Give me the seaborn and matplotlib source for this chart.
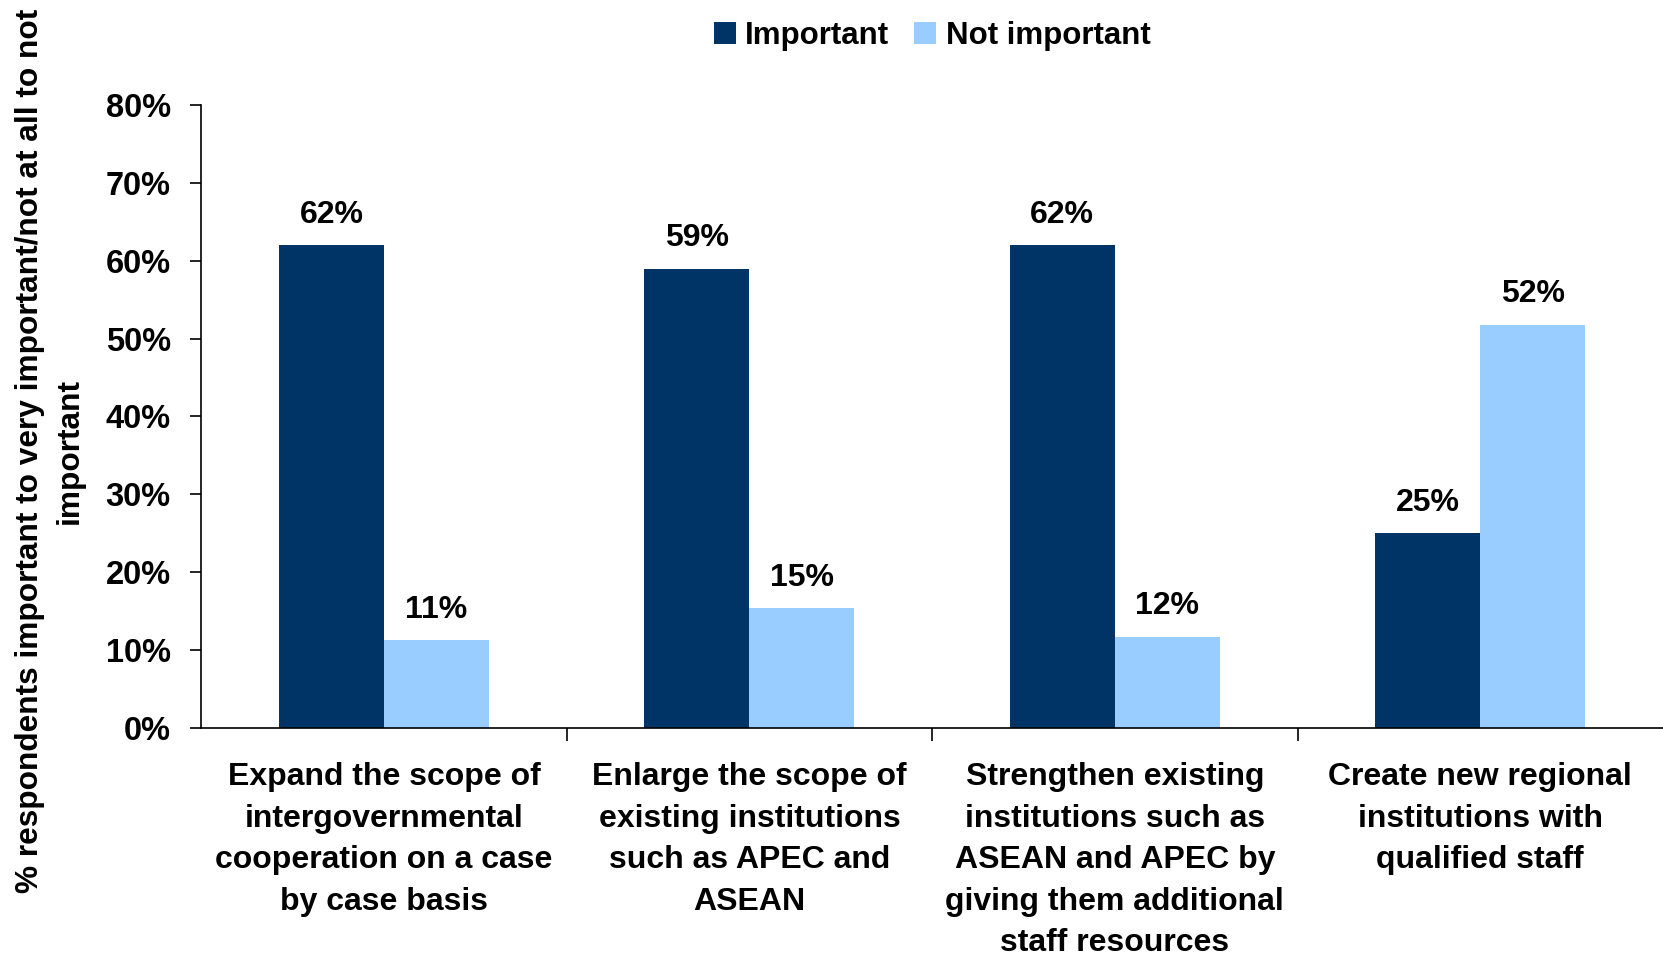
import pandas as pd
import matplotlib.pyplot as plt
import seaborn as sns
from matplotlib.ticker import FuncFormatter

# data
categories = [
    "Expand the scope of\nintergovernmental\ncooperation on a case\nby case basis",
    "Enlarge the scope of\nexisting institutions\nsuch as APEC and\nASEAN",
    "Strengthen existing\ninstitutions such as\nASEAN and APEC by\ngiving them additional\nstaff resources",
    "Create new regional\ninstitutions with\nqualified staff",
]
series = ["Important", "Not important"]
important = [62, 59, 62, 25]
not_important = [11.2, 15.4, 11.7, 51.8]
colors = ["#003366", "#99CCFF"]

df = pd.DataFrame({
    "Categoria": categories * 2,
    "Serie": [series[0]] * 4 + [series[1]] * 4,
    "Valor": important + not_important,
})

sns.set_theme(style="white")
plt.rcParams["font.family"] = ["Liberation Sans", "DejaVu Sans"]
plt.rcParams["font.weight"] = "bold"
plt.rcParams["text.color"] = "black"
plt.rcParams["xtick.color"] = "black"
plt.rcParams["ytick.color"] = "black"
plt.rcParams["axes.labelcolor"] = "black"

fig = plt.figure(figsize=(16.63, 9.58), dpi=100)
ax = fig.add_axes([0.121, 0.2405, 0.879, 0.6495])

sns.barplot(data=df, x="Categoria", y="Valor", hue="Serie", palette=colors,
            width=0.575, saturation=1, linewidth=0, ax=ax, legend=True)

for cont in ax.containers:
    ax.bar_label(cont, labels=[f"{v:.0f}%" for v in cont.datavalues],
                 padding=11, fontsize=23, fontweight="bold", color="black")

ax.set_ylim(0, 80)
ax.set_xlim(-0.5, 3.5)
ax.set_yticks(range(0, 81, 10))
ax.yaxis.set_major_formatter(FuncFormatter(lambda v, p: f"{v:.0f}%"))
ax.tick_params(axis="y", direction="out", length=8, width=1.2, labelsize=23.5, pad=14, left=True)
ax.tick_params(axis="x", which="major", length=0, labelsize=23, pad=25)
ax.set_xticks([0.5, 1.5, 2.5], minor=True)
ax.tick_params(axis="x", which="minor", direction="out", length=9, width=1.2, bottom=True)
for lab in ax.get_xticklabels():
    lab.set_linespacing(1.5)
    lab.set_fontweight("bold")
    lab.set_verticalalignment("top")

sns.despine(ax=ax)
for s in ["left", "bottom"]:
    ax.spines[s].set_color("black")
    ax.spines[s].set_linewidth(1.2)

ax.set_xlabel("")
ax.set_ylabel("% respondents important to very important/not at all to not\nimportant",
              fontsize=22.8, fontweight="bold", linespacing=1.4)
ax.yaxis.set_label_coords(-0.080, 0.445)

leg = ax.legend(loc="center", bbox_to_anchor=(0.5, 1.112), ncol=2, frameon=False,
                fontsize=22.5, handlelength=0.7, handleheight=0.7, handletextpad=0.3,
                columnspacing=0.8)
for t in leg.get_texts():
    t.set_fontweight("bold")
    t.set_color("black")

plt.savefig("out.png", dpi=100)
plt.close()
